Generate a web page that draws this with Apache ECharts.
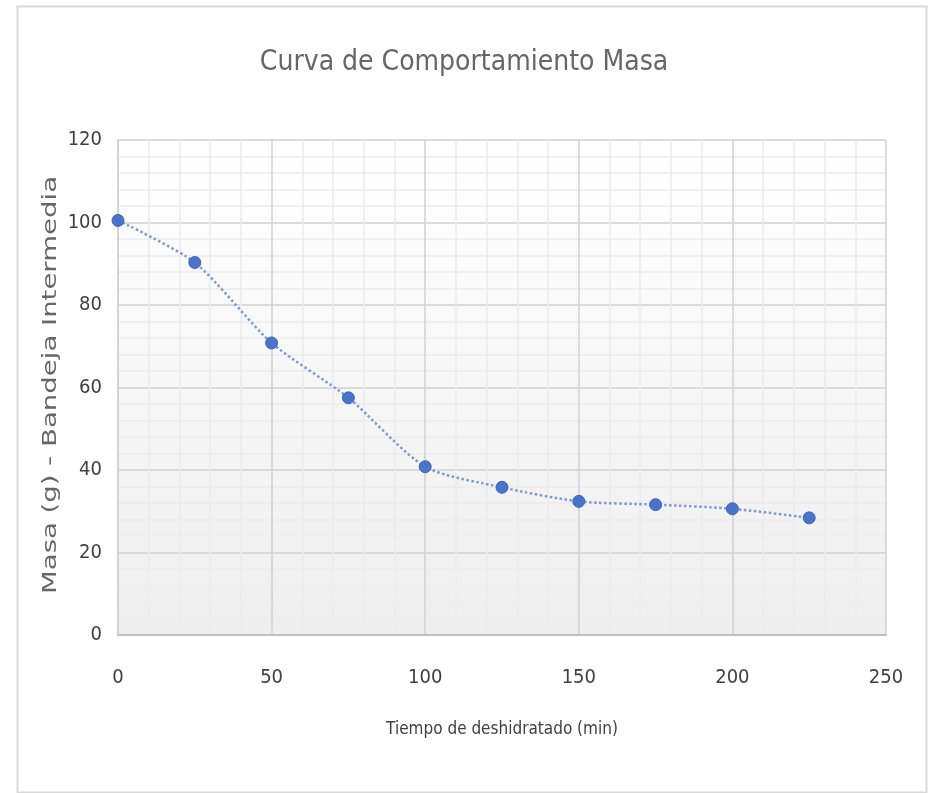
<!DOCTYPE html>
<html>
<head>
<meta charset="utf-8">
<script src="https://cdn.jsdelivr.net/npm/echarts@6/dist/echarts.min.js"></script>
<style>
html,body{margin:0;padding:0;background:#fff;}
#chart{width:928px;height:793px;}
</style>
</head>
<body>
<div id="chart"></div>
<script>
const chartTitle = "Curva de Comportamiento Masa";
const xAxisTitle = "Tiempo de deshidratado (min)";
const yAxisTitle = "Masa (g) - Bandeja Intermedia";
const tiempo = [0, 25, 50, 75, 100, 125, 150, 175, 200, 225];
const masa = [100.5, 90.3, 70.8, 57.5, 40.8, 35.8, 32.4, 31.6, 30.6, 28.4];

const narrow = "'Liberation Sans Narrow', 'DejaVu Sans Condensed', sans-serif";
const chart = echarts.init(document.getElementById('chart'));
chart.setOption({
  backgroundColor: '#fff',
  animation: false,
  graphic: [{
    type: 'rect', left: 15, top: 4,
    shape: { width: 909, height: 786 },
    style: { fill: 'none', stroke: '#d9d9d9', lineWidth: 2 }
  }, {
    type: 'text', x: 51, y: 385, rotation: Math.PI / 2, scaleX: 1.45,
    style: {
      text: yAxisTitle, fill: '#666666', fontSize: 19,
      fontFamily: "'DejaVu Sans', sans-serif",
      align: 'center', verticalAlign: 'middle'
    }
  }],
  title: {
    text: chartTitle, left: 'center', top: 44,
    textStyle: { fontFamily: narrow, fontWeight: 'normal', fontSize: 28, color: '#666666' }
  },
  grid: {
    left: 118, right: 42, top: 140, bottom: 158, show: true, borderWidth: 0,
    backgroundColor: new echarts.graphic.LinearGradient(0, 0, 0, 1, [
      { offset: 0, color: '#ffffff' }, { offset: 1, color: '#eeeeee' }
    ])
  },
  xAxis: {
    type: 'value', min: 0, max: 250, interval: 50,
    name: xAxisTitle, nameLocation: 'middle', nameGap: 86,
    nameTextStyle: { fontFamily: narrow, fontSize: 17, color: '#404040' },
    axisLine: { show: true, lineStyle: { color: '#bfbfbf', width: 2 } },
    axisTick: { show: false },
    axisLabel: { fontFamily: narrow, fontSize: 20, color: '#404040', margin: 33 },
    splitLine: { show: true, lineStyle: { color: '#d0d0d0', width: 1.5 } },
    minorTick: { show: false, splitNumber: 5 },
    minorSplitLine: { show: true, lineStyle: { color: '#ececec', width: 1.5 } }
  },
  yAxis: {
    type: 'value', min: 0, max: 120, interval: 20,
    axisLine: { show: true, lineStyle: { color: '#d0d0d0', width: 1.5 } },
    axisTick: { show: false },
    axisLabel: { fontFamily: narrow, fontSize: 20, color: '#404040', margin: 16 },
    splitLine: { show: true, lineStyle: { color: '#d0d0d0', width: 1.5 } },
    minorTick: { show: false, splitNumber: 5 },
    minorSplitLine: { show: true, lineStyle: { color: '#ececec', width: 1.5 } }
  },
  series: [{
    type: 'line',
    data: tiempo.map((t, i) => [t, masa[i]]),
    smooth: 0.25,
    symbol: 'circle', symbolSize: 12,
    lineStyle: { color: '#7b9ad9', width: 2.5, type: 'dotted' },
    itemStyle: { color: '#4a74c9', borderColor: '#3d66b8', borderWidth: 1 }
  }]
});
</script>
</body>
</html>
